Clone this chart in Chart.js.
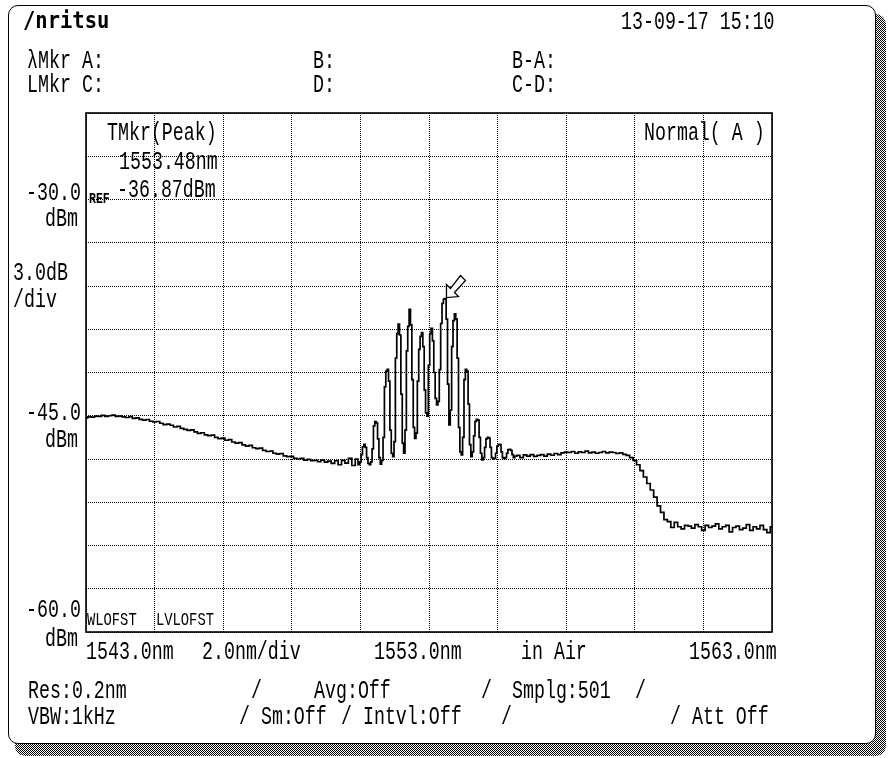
<!DOCTYPE html>
<html><head><meta charset="utf-8">
<script src="https://cdn.jsdelivr.net/npm/chart.js@4.4.1/dist/chart.umd.min.js"></script>
<style>
html,body{margin:0;padding:0;background:#fff;width:891px;height:758px;overflow:hidden;position:relative}
#shadow{position:absolute;left:15px;top:14px;width:871px;height:742px;background:repeating-conic-gradient(#000 0 25%,#fff 0 50%) 0 0/2px 2px;border-radius:10px}
#frame{position:absolute;left:8px;top:5px;width:868px;height:739px;box-sizing:border-box;border:1.6px solid #000;border-radius:10px;background:#fff}
#c{position:absolute;left:0;top:0}
.t{position:absolute;font-family:"Liberation Mono","DejaVu Sans Mono",monospace;font-size:18.3px;line-height:1;white-space:pre;color:#000;transform:translateY(-50%) scaleY(1.38);transform-origin:0 50%}
.s{font-size:13.8px;transform:translateY(-50%) scaleY(1.3)}
.r{font-size:11.5px;font-weight:bold;transform:translateY(-50%) scaleY(1.2)}
.logo{font-family:"DejaVu Sans Mono",monospace;font-size:20.5px;font-weight:bold;transform:translateY(-50%) scaleY(1.15)}
</style>
</head><body>
<div id="shadow"></div>
<div id="frame"></div>
<canvas id="c" width="891" height="758"></canvas>
<div id="texts"></div>
<script>
// ---------- DATA ----------
// left part of the spectrum (0.1 nm steps)
const leftNm = [
 1543.0,1543.1,1543.2,1543.3,1543.4,1543.5,1543.6,1543.7,1543.8,1543.9,
 1544.0,1544.1,1544.2,1544.3,1544.4,1544.5,1544.6,1544.7,1544.8,1544.9,
 1545.0,1545.1,1545.2,1545.3,1545.4,1545.5,1545.6,1545.7,1545.8,1545.9,
 1546.0,1546.1,1546.2,1546.3,1546.4,1546.5,1546.6,1546.7,1546.8,1546.9,
 1547.0,1547.1,1547.2,1547.3,1547.4,1547.5,1547.6,1547.7,1547.8,1547.9,
 1548.0,1548.1,1548.2,1548.3,1548.4,1548.5,1548.6,1548.7,1548.8,1548.9,
 1549.0,1549.1,1549.2,1549.3,1549.4,1549.5,1549.6,1549.7,1549.8,1549.9,
 1550.0,1550.1,1550.2,1550.3,1550.4,1550.5,1550.6,1550.7,1550.8,1550.9
];
const leftDbm = [
 -45.15,-45.08,-45.10,-45.02,-45.05,-44.98,-45.04,-45.00,-44.96,-45.05,
 -45.02,-45.08,-45.12,-45.06,-45.18,-45.15,-45.25,-45.30,-45.26,-45.38,
 -45.42,-45.40,-45.52,-45.62,-45.58,-45.66,-45.78,-45.74,-45.88,-45.95,
 -46.02,-45.98,-46.12,-46.22,-46.18,-46.32,-46.38,-46.35,-46.50,-46.58,
 -46.55,-46.70,-46.66,-46.82,-46.90,-46.86,-47.02,-47.10,-47.05,-47.22,
 -47.28,-47.25,-47.40,-47.48,-47.45,-47.60,-47.66,-47.62,-47.78,-47.84,
 -47.82,-47.95,-48.00,-47.96,-48.08,-48.02,-48.12,-48.10,-48.18,-48.08,
 -48.22,-48.15,-48.30,-48.12,-48.40,-48.10,-48.28,-47.95,-48.45,-48.00
];
// comb of modes around the peak (0.04 nm steps = instrument sampling)
const combNm = [
 1550.96,1551.00,1551.04,1551.08,1551.12,1551.16,1551.20,1551.24,1551.28,1551.32,
 1551.36,1551.40,1551.44,1551.48,1551.52,1551.56,1551.60,1551.64,1551.68,1551.72,
 1551.76,1551.80,1551.84,1551.88,1551.92,1551.96,1552.00,1552.04,1552.08,1552.12,
 1552.16,1552.20,1552.24,1552.28,1552.32,1552.36,1552.40,1552.44,1552.48,1552.52,
 1552.56,1552.60,1552.64,1552.68,1552.72,1552.76,1552.80,1552.84,1552.88,1552.92,
 1552.96,1553.00,1553.04,1553.08,1553.12,1553.16,1553.20,1553.24,1553.28,1553.32,
 1553.36,1553.40,1553.44,1553.48,1553.52,1553.56,1553.60,1553.64,1553.68,1553.72,
 1553.76,1553.80,1553.84,1553.88,1553.92,1553.96,1554.00,1554.04,1554.08,1554.12,
 1554.16,1554.20,1554.24,1554.28,1554.32,1554.36,1554.40,1554.44,1554.48,1554.52,
 1554.56,1554.60,1554.64,1554.68,1554.72,1554.76,1554.80,1554.84,1554.88,1554.92,
 1554.96,1555.00,1555.04,1555.08,1555.12,1555.16,1555.20,1555.24,1555.28,1555.32,
 1555.36,1555.40,1555.44,1555.48,1555.52
];
const combDbm = [
 -48.40,-48.20,-47.70,-47.15,-46.98,-47.20,-47.90,-48.30,-48.40,-48.20,
 -47.30,-45.70,-45.41,-45.50,-46.60,-47.90,-48.35,-48.10,-46.50,-43.00,
 -41.90,-41.78,-42.60,-46.00,-47.60,-47.84,-46.80,-41.00,-39.30,-38.64,
 -39.40,-43.50,-46.90,-47.60,-46.00,-40.50,-38.80,-37.62,-38.70,-42.50,
 -45.80,-46.57,-46.20,-42.60,-40.40,-39.50,-39.24,-40.20,-43.20,-44.80,
 -45.02,-41.50,-39.30,-38.94,-39.80,-42.00,-43.80,-44.25,-44.00,-41.80,
 -38.60,-37.20,-36.90,-36.87,-38.30,-42.80,-45.64,-44.60,-40.20,-38.40,
 -37.94,-38.30,-41.00,-45.80,-47.50,-47.72,-46.50,-42.50,-41.78,-41.90,
 -44.20,-47.00,-47.84,-47.50,-46.40,-45.40,-45.25,-45.30,-46.50,-47.60,
 -48.07,-47.90,-47.20,-46.60,-46.50,-46.55,-47.20,-47.90,-48.00,-47.95,
 -47.60,-47.10,-46.98,-47.00,-47.50,-47.90,-47.95,-47.90,-47.60,-47.35,
 -47.33,-47.40,-47.70,-47.90,-47.80
];
// right part of the spectrum (0.1 nm steps)
const rightNm = [
 1555.6,1555.7,1555.8,1555.9,
 1556.0,1556.1,1556.2,1556.3,1556.4,1556.5,1556.6,1556.7,1556.8,1556.9,
 1557.0,1557.1,1557.2,1557.3,1557.4,1557.5,1557.6,1557.7,1557.8,1557.9,
 1558.0,1558.1,1558.2,1558.3,1558.4,1558.5,1558.6,1558.7,1558.8,1558.9,
 1559.0,1559.1,1559.2,1559.3,1559.4,1559.5,1559.6,1559.7,1559.8,1559.9,
 1560.0,1560.1,1560.2,1560.3,1560.4,1560.5,1560.6,1560.7,1560.8,1560.9,
 1561.0,1561.1,1561.2,1561.3,1561.4,1561.5,1561.6,1561.7,1561.8,1561.9,
 1562.0,1562.1,1562.2,1562.3,1562.4,1562.5,1562.6,1562.7,1562.8,1562.9,
 1563.0
];
const rightDbm = [
 -47.75,-47.90,-47.72,-47.80,
 -47.70,-47.82,-47.75,-47.70,-47.80,-47.66,-47.74,-47.62,-47.70,-47.58,
 -47.52,-47.55,-47.48,-47.60,-47.50,-47.55,-47.45,-47.58,-47.52,-47.60,
 -47.55,-47.48,-47.58,-47.52,-47.55,-47.62,-47.58,-47.68,-47.75,-47.90,
 -48.10,-48.40,-48.80,-49.25,-49.70,-50.15,-50.65,-51.25,-51.70,-52.20,
 -52.35,-52.75,-52.40,-52.70,-52.85,-52.60,-52.65,-52.80,-52.55,-52.70,
 -52.95,-52.60,-52.75,-52.65,-52.50,-52.85,-52.70,-52.60,-53.05,-52.75,
 -52.65,-52.90,-52.80,-52.55,-52.95,-52.70,-52.85,-52.60,-52.90,-53.10,
 -52.70
];
// axes
const xMinNm = 1543.0, xMaxNm = 1563.0, xDivNm = 2.0;
const yMinDbm = -60.0, yMaxDbm = -24.0, yDivDb = 3.0;
const xTickLabels = ['1543.0nm', '2.0nm/div', '1553.0nm', 'in Air', '1563.0nm'];
const yTickLabels = ['-30.0', '-45.0', '-60.0'];
const yUnitLabel = 'dBm';
// peak marker
const markerNm = 1553.48, markerDbm = -36.87;

// ---------- TEXT LAYOUT ----------
const T = [
 ['/nritsu', 23, 20, 'logo'],
 ['13-09-17 15:10', 621, 21.5],
 ['\u03bbMkr', 27, 61], ['A:', 82, 61], ['B:', 313, 61], ['B-A:', 512, 61],
 ['LMkr', 27, 85], ['C:', 82, 85], ['D:', 313, 85], ['C-D:', 512, 85],
 ['TMkr(Peak)', 107, 133],
 [markerNm.toFixed(2) + 'nm', 119, 162],
 [markerDbm.toFixed(2) + 'dBm', 117, 190],
 ['Normal( A )', 644, 133],
 ['REF', 89, 199, 'r'],
 [yTickLabels[0], 26, 193], [yUnitLabel, 45, 219],
 ['3.0dB', 13, 273], ['/div', 13, 300],
 [yTickLabels[1], 26, 413], [yUnitLabel, 45, 440],
 [yTickLabels[2], 26, 610], [yUnitLabel, 45, 639],
 ['WLOFST', 87, 621, 's'], ['LVLOFST', 156, 621, 's'],
 [xTickLabels[0], 86, 652], [xTickLabels[1], 202, 652], [xTickLabels[2], 374, 652],
 [xTickLabels[3], 521, 652], [xTickLabels[4], 689, 652],
 ['Res:0.2nm', 28, 691], ['/', 251, 691], ['Avg:Off', 314, 691], ['/', 481, 691],
 ['Smplg:501', 512, 691], ['/', 635, 691],
 ['VBW:1kHz', 28, 717], ['/ Sm:Off', 239, 717], ['/ Intvl:Off', 341, 717],
 ['/', 501, 717], ['/ Att Off', 670, 717]
];
const box = document.getElementById('texts');
T.forEach(([txt, x, y, cls]) => {
  const d = document.createElement('div');
  d.className = 't' + (cls ? ' ' + cls : '');
  d.textContent = txt;
  d.style.left = x + 'px';
  d.style.top = y + 'px';
  box.appendChild(d);
});

// ---------- CHART ----------
const nm = leftNm.concat(combNm, rightNm);
const dbm = leftDbm.concat(combDbm, rightDbm);
const points = nm.map((x, i) => ({x: x, y: dbm[i]}));

const framePlugin = {
  id: 'frame',
  afterDraw(chart) {
    const a = chart.chartArea, ctx = chart.ctx;
    ctx.save();
    ctx.strokeStyle = '#000';
    ctx.lineWidth = 1.6;
    ctx.strokeRect(a.left, a.top, a.right - a.left, a.bottom - a.top);
    ctx.restore();
  }
};
const markerPlugin = {
  id: 'marker',
  afterDatasetsDraw(chart) {
    const px = chart.scales.x.getPixelForValue(markerNm);
    const py = chart.scales.y.getPixelForValue(markerDbm);
    const ctx = chart.ctx;
    const shape = [[0,0],[0,-13],[4,-9],[14,-22],[19,-17],[8,-5],[12,-1],[0,0]];
    ctx.save();
    ctx.beginPath();
    shape.forEach(([dx, dy], i) => {
      const X = px + 1 + dx, Y = py - 1 + dy;
      if (i === 0) ctx.moveTo(X, Y); else ctx.lineTo(X, Y);
    });
    ctx.closePath();
    ctx.fillStyle = '#fff';
    ctx.fill();
    ctx.strokeStyle = '#000';
    ctx.lineWidth = 1.3;
    ctx.stroke();
    ctx.restore();
  }
};

new Chart(document.getElementById('c'), {
  type: 'line',
  data: {
    datasets: [{
      data: points,
      borderColor: '#000',
      borderWidth: 1.7,
      pointRadius: 0,
      tension: 0,
      stepped: 'middle',
      fill: false
    }]
  },
  options: {
    responsive: false,
    animation: false,
    devicePixelRatio: 1,
    layout: { padding: { left: 86, top: 113, right: 119, bottom: 126 } },
    plugins: { legend: { display: false }, tooltip: { enabled: false } },
    scales: {
      x: {
        type: 'linear', min: xMinNm, max: xMaxNm,
        ticks: { display: false, stepSize: xDivNm },
        grid: { color: '#000', lineWidth: 1, drawTicks: false },
        border: { display: false, dash: [1, 1] }
      },
      y: {
        type: 'linear', min: yMinDbm, max: yMaxDbm,
        ticks: { display: false, stepSize: yDivDb },
        grid: { color: '#000', lineWidth: 1, drawTicks: false },
        border: { display: false, dash: [1, 1] }
      }
    }
  },
  plugins: [framePlugin, markerPlugin]
});
</script>
</body></html>
